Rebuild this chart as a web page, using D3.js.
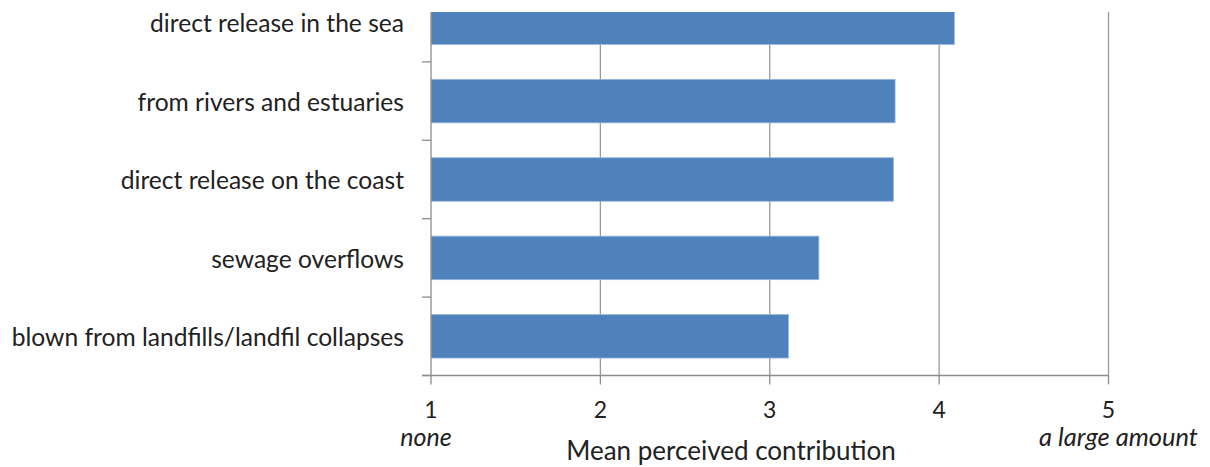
<!DOCTYPE html>
<html>
<head>
<meta charset="utf-8">
<script src="https://cdn.jsdelivr.net/npm/d3@7"></script>
<style>
  html, body { margin: 0; padding: 0; background: #fff; }
  svg { display: block; }
  text { font-family: Lato, "Open Sans", sans-serif; fill: #222; }
</style>
</head>
<body>
<svg id="chart" width="1210" height="467"></svg>
<script>
// ---- data ----
const categories = [
  "direct release in the sea",
  "from rivers and estuaries",
  "direct release on the coast",
  "sewage overflows",
  "blown from landfills/landfil collapses"
];
const values = [4.09, 3.74, 3.73, 3.29, 3.11];
const xTicks = [1, 2, 3, 4, 5];
const xEndLabels = ["none", "a large amount"];
const xTitle = "Mean perceived contribution";

// ---- layout ----
const plotLeft = 431, plotRight = 1108.5;
const plotTop = 12, plotBottom = 375.5;
const bandStep = 78.4;

const svg = d3.select("#chart");

const x = d3.scaleLinear().domain([1, 5]).range([plotLeft, plotRight]);
const y = d3.scaleBand()
  .domain(categories)
  .range([plotBottom - bandStep * categories.length, plotBottom])
  .paddingInner(0.445)
  .paddingOuter(0.2225);

svg.append("defs").append("clipPath").attr("id", "plotclip")
  .append("rect")
  .attr("x", plotLeft).attr("y", plotTop)
  .attr("width", plotRight - plotLeft + 2).attr("height", plotBottom - plotTop);

// gridlines
svg.append("g")
  .selectAll("line")
  .data(xTicks.filter(d => d !== 1))
  .join("line")
  .attr("x1", d => x(d)).attr("x2", d => x(d))
  .attr("y1", plotTop).attr("y2", plotBottom)
  .attr("stroke", "#9a9a9a")
  .attr("stroke-width", 1.3);

// bars
svg.append("g")
  .attr("clip-path", "url(#plotclip)")
  .selectAll("rect")
  .data(categories)
  .join("rect")
  .attr("x", x(1))
  .attr("y", d => y(d))
  .attr("width", (d, i) => x(values[i]) - x(1))
  .attr("height", y.bandwidth())
  .attr("fill", "#4f81bd")
  .attr("stroke", "#9bb7dc")
  .attr("stroke-width", 0.8);

// y axis (left) with band boundary ticks
const yAxisG = svg.append("g");
yAxisG.append("line")
  .attr("x1", plotLeft).attr("x2", plotLeft)
  .attr("y1", plotTop).attr("y2", plotBottom)
  .attr("stroke", "#8c8c8c").attr("stroke-width", 1.3);
const boundaries = categories.map(c => y(c) - y.step() * y.paddingInner() / 2 + y.step());
yAxisG.selectAll("line.tick")
  .data(boundaries.filter(v => v >= plotTop))
  .join("line")
  .attr("class", "tick")
  .attr("x1", plotLeft - 9).attr("x2", plotLeft)
  .attr("y1", d => d).attr("y2", d => d)
  .attr("stroke", "#8c8c8c").attr("stroke-width", 1.3);

// category labels
yAxisG.selectAll("text")
  .data(categories)
  .join("text")
  .attr("x", plotLeft - 27)
  .attr("y", d => y(d) + y.bandwidth() / 2 + 1)
  .attr("dy", "0.35em")
  .attr("text-anchor", "end")
  .attr("font-size", 24.6)
  .text(d => d);

// x axis (bottom)
const xAxisG = svg.append("g");
xAxisG.append("line")
  .attr("x1", plotLeft - 9).attr("x2", plotRight)
  .attr("y1", plotBottom).attr("y2", plotBottom)
  .attr("stroke", "#8c8c8c").attr("stroke-width", 1.3);
xAxisG.selectAll("line.tick")
  .data(xTicks)
  .join("line")
  .attr("class", "tick")
  .attr("x1", d => x(d)).attr("x2", d => x(d))
  .attr("y1", plotBottom).attr("y2", plotBottom + 9)
  .attr("stroke", "#8c8c8c").attr("stroke-width", 1.3);
xAxisG.selectAll("text.ticklabel")
  .data(xTicks)
  .join("text")
  .attr("class", "ticklabel")
  .attr("x", d => x(d))
  .attr("y", 418)
  .attr("text-anchor", "middle")
  .attr("font-size", 23)
  .text(d => d);

// end labels
xAxisG.append("text")
  .attr("x", x(1) - 5).attr("y", 446)
  .attr("text-anchor", "middle")
  .attr("font-style", "italic")
  .attr("font-size", 25)
  .text(xEndLabels[0]);
xAxisG.append("text")
  .attr("x", x(5) + 10).attr("y", 446)
  .attr("text-anchor", "middle")
  .attr("font-style", "italic")
  .attr("font-size", 25.5)
  .text(xEndLabels[1]);

// axis title
svg.append("text")
  .attr("x", 731).attr("y", 460)
  .attr("text-anchor", "middle")
  .attr("font-size", 26)
  .text(xTitle);
</script>
</body>
</html>
